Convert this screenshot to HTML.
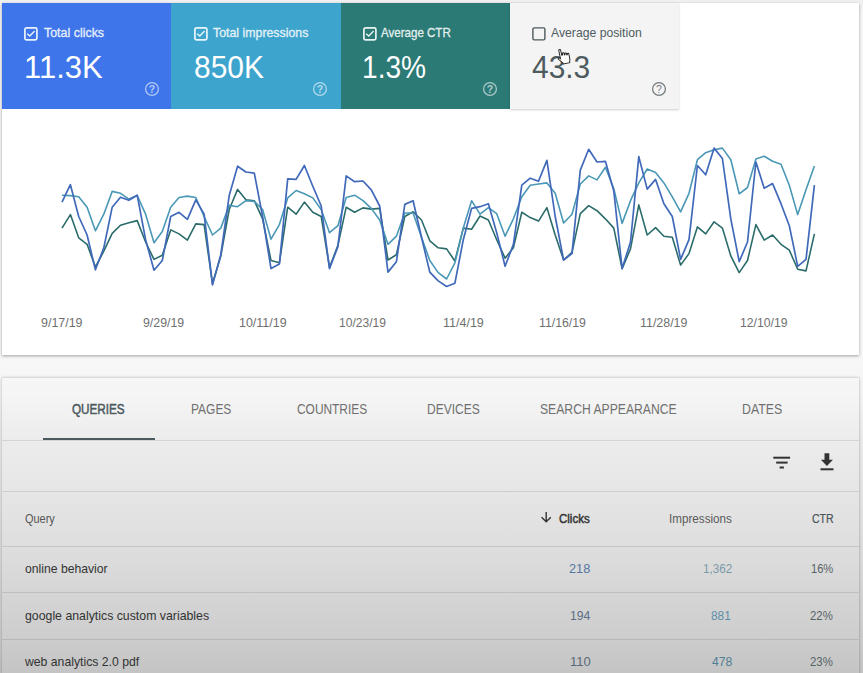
<!DOCTYPE html>
<html><head><meta charset="utf-8"><title>Performance</title>
<style>
html,body{margin:0;padding:0;}
body{width:863px;height:673px;overflow:hidden;background:linear-gradient(#f1f1f1 0px,#f7f7f7 20px,#f7f7f7 360px,#f6f6f6 378px,#f5f5f5 395px,#ececec 440px,#e6e6e6 491px,#dcdcdc 558px,#cdcdcd 638px,#c4c4c4 673px);font-family:"Liberation Sans",sans-serif;position:relative;}
.abs{position:absolute;}
.t{position:absolute;line-height:1;white-space:nowrap;transform-origin:0 0;}
#panel{left:2px;top:3px;width:857px;height:351.5px;background:#fff;box-shadow:0 1px 3px rgba(0,0,0,.35);}
.card{position:absolute;top:3px;height:105.5px;}
#c4{background:#f4f4f4;box-shadow:0 1px 2px rgba(0,0,0,.2);}
#tbl{left:2px;top:378px;width:857px;height:300px;box-shadow:0 0 3px rgba(0,0,0,.3);}
.hline{position:absolute;left:2px;width:857px;height:1px;background:rgba(0,0,0,.10);}
</style></head><body>
<div id="panel" class="abs"></div>
<div class="card" style="left:2px;width:169px;background:#3e75ea"></div>
<div class="card" style="left:171px;width:169.5px;background:#3da4cd"></div>
<div class="card" style="left:340.5px;width:169px;background:#2b7a76"></div>
<div class="card" id="c4" style="left:509.5px;width:169px;"></div>
<svg class="abs" style="left:24.3px;top:26.5px" width="14" height="14" viewBox="0 0 14 14"><rect x="0.9" y="0.9" width="12" height="12" rx="1.6" fill="none" stroke="#eaf3fd" stroke-width="1.7"/><path d="M3.2 6.7 L5.8 9.1 L10.6 4.1" fill="none" stroke="#eaf3fd" stroke-width="1.4"/></svg>
<svg class="abs" style="left:193.7px;top:26.5px" width="14" height="14" viewBox="0 0 14 14"><rect x="0.9" y="0.9" width="12" height="12" rx="1.6" fill="none" stroke="#eaf6fb" stroke-width="1.7"/><path d="M3.2 6.7 L5.8 9.1 L10.6 4.1" fill="none" stroke="#eaf6fb" stroke-width="1.4"/></svg>
<svg class="abs" style="left:362.7px;top:26.5px" width="14" height="14" viewBox="0 0 14 14"><rect x="0.9" y="0.9" width="12" height="12" rx="1.6" fill="none" stroke="#e8f3f2" stroke-width="1.7"/><path d="M3.2 6.7 L5.8 9.1 L10.6 4.1" fill="none" stroke="#e8f3f2" stroke-width="1.4"/></svg>
<svg class="abs" style="left:531.7px;top:26.9px" width="14" height="14" viewBox="0 0 14 14"><rect x="0.9" y="0.9" width="12" height="12" rx="1.4" fill="none" stroke="#4c595c" stroke-width="1.4"/></svg>
<svg class="abs" style="left:143.7px;top:80.7px;opacity:0.6" width="16" height="16" viewBox="0 0 16 16"><circle cx="8" cy="8" r="6.4" fill="none" stroke="#fff" stroke-width="1.25"/><text x="8" y="11.7" font-size="10.5" font-weight="bold" text-anchor="middle" fill="#fff" font-family="Liberation Sans, sans-serif">?</text></svg>
<svg class="abs" style="left:312.4px;top:80.7px;opacity:0.6" width="16" height="16" viewBox="0 0 16 16"><circle cx="8" cy="8" r="6.4" fill="none" stroke="#fff" stroke-width="1.25"/><text x="8" y="11.7" font-size="10.5" font-weight="bold" text-anchor="middle" fill="#fff" font-family="Liberation Sans, sans-serif">?</text></svg>
<svg class="abs" style="left:481.6px;top:80.7px;opacity:0.6" width="16" height="16" viewBox="0 0 16 16"><circle cx="8" cy="8" r="6.4" fill="none" stroke="#fff" stroke-width="1.25"/><text x="8" y="11.7" font-size="10.5" font-weight="bold" text-anchor="middle" fill="#fff" font-family="Liberation Sans, sans-serif">?</text></svg>
<svg class="abs" style="left:650.6px;top:80.7px;opacity:0.8" width="16" height="16" viewBox="0 0 16 16"><circle cx="8" cy="8" r="6.4" fill="none" stroke="#555f62" stroke-width="1.25"/><text x="8" y="11.7" font-size="10.5" font-weight="normal" text-anchor="middle" fill="#555f62" font-family="Liberation Sans, sans-serif">?</text></svg>
<svg class="abs" style="left:0;top:0" width="863" height="360" viewBox="0 0 863 360">
<polyline fill="none" stroke="#2b6c6b" stroke-width="1.6" stroke-linejoin="round" points="62.0,228.1 70.4,214.6 78.7,237.8 87.1,244.3 95.4,267.0 103.8,251.2 112.2,233.4 120.5,225.3 128.9,222.7 137.2,220.6 145.6,242.0 154.0,259.4 162.3,255.2 170.7,229.9 179.0,233.9 187.4,240.1 195.8,223.9 204.1,224.6 212.5,283.7 220.8,255.9 229.2,209.5 237.6,189.4 245.9,199.8 254.3,200.7 262.6,218.8 271.0,260.5 279.4,262.8 287.7,207.2 296.1,214.2 304.4,202.1 312.8,212.3 321.2,216.5 329.5,267.5 337.9,245.4 346.2,207.2 354.6,212.3 363.0,207.9 371.3,209.1 379.7,208.4 388.0,260.0 396.4,254.7 404.8,216.5 413.1,211.8 421.5,220.0 429.8,240.8 438.2,247.8 446.6,248.9 454.9,261.0 463.3,228.1 471.6,229.2 480.0,216.0 488.4,220.0 496.7,239.7 505.1,258.2 513.4,247.8 521.8,212.3 530.2,217.6 538.5,221.1 546.9,207.7 555.2,235.0 563.6,260.0 572.0,252.4 580.3,213.7 588.7,205.6 597.0,210.7 605.4,218.8 613.8,228.1 622.1,268.6 630.5,248.9 638.8,204.9 647.2,235.0 655.6,227.6 663.9,236.2 672.3,237.3 680.6,265.1 689.0,253.6 697.4,226.9 705.7,233.9 714.1,221.8 722.4,228.1 730.8,255.9 739.2,272.6 747.5,260.5 755.9,224.6 764.2,240.1 772.6,235.0 781.0,244.3 789.3,250.1 797.7,269.3 806.0,270.9 814.4,233.9"/>
<polyline fill="none" stroke="#4a98b6" stroke-width="1.6" stroke-linejoin="round" points="62.0,195.2 70.4,195.6 78.7,196.8 87.1,207.2 95.4,230.8 103.8,214.2 112.2,191.4 120.5,193.3 128.9,199.1 137.2,195.6 145.6,214.2 154.0,242.7 162.3,231.5 170.7,207.2 179.0,197.5 187.4,196.1 195.8,197.5 204.1,216.5 212.5,235.0 220.8,228.1 229.2,205.4 237.6,206.7 245.9,200.7 254.3,201.4 262.6,209.5 271.0,239.2 279.4,224.6 287.7,197.9 296.1,190.5 304.4,193.8 312.8,197.9 321.2,209.5 329.5,232.7 337.9,225.7 346.2,197.5 354.6,195.2 363.0,200.7 371.3,208.4 379.7,220.0 388.0,244.3 396.4,236.2 404.8,213.0 413.1,213.0 421.5,237.3 429.8,260.5 438.2,272.6 446.6,279.0 454.9,262.8 463.3,228.1 471.6,200.7 480.0,214.2 488.4,207.7 496.7,213.7 505.1,236.2 513.4,218.8 521.8,196.8 530.2,185.2 538.5,184.0 546.9,182.9 555.2,193.3 563.6,223.0 572.0,214.2 580.3,184.0 588.7,175.9 597.0,179.9 605.4,167.3 613.8,188.7 622.1,223.4 630.5,200.7 638.8,182.9 647.2,169.0 655.6,172.4 663.9,182.9 672.3,196.8 680.6,211.8 689.0,193.3 697.4,159.7 705.7,152.7 714.1,149.7 722.4,148.1 730.8,159.7 739.2,193.8 747.5,187.5 755.9,159.0 764.2,156.2 772.6,161.3 781.0,164.3 789.3,185.2 797.7,214.6 806.0,189.8 814.4,166.0"/>
<polyline fill="none" stroke="#4169ba" stroke-width="1.7" stroke-linejoin="round" points="62.0,202.1 70.4,184.7 78.7,216.5 87.1,235.0 95.4,269.8 103.8,247.8 112.2,207.2 120.5,197.2 128.9,200.3 137.2,195.2 145.6,239.7 154.0,270.2 162.3,260.5 170.7,216.5 179.0,212.3 187.4,219.3 195.8,199.8 204.1,214.2 212.5,284.8 220.8,254.7 229.2,195.6 237.6,166.2 245.9,172.0 254.3,173.1 262.6,216.5 271.0,268.6 279.4,264.0 287.7,178.9 296.1,179.4 304.4,165.5 312.8,186.3 321.2,206.0 329.5,268.6 337.9,246.6 346.2,175.9 354.6,181.7 363.0,181.0 371.3,189.8 379.7,206.0 388.0,272.1 396.4,261.7 404.8,204.4 413.1,200.7 421.5,237.3 429.8,272.1 438.2,280.9 446.6,286.5 454.9,283.2 463.3,239.7 471.6,208.4 480.0,206.7 488.4,203.7 496.7,232.7 505.1,266.3 513.4,244.3 521.8,185.2 530.2,178.2 538.5,181.3 546.9,160.4 555.2,216.5 563.6,260.0 572.0,253.6 580.3,170.1 588.7,149.3 597.0,162.0 605.4,161.3 613.8,191.0 622.1,268.6 630.5,242.0 638.8,156.7 647.2,189.1 655.6,179.4 663.9,203.7 672.3,216.5 680.6,259.4 689.0,239.7 697.4,165.5 705.7,174.8 714.1,148.1 722.4,158.5 730.8,218.8 739.2,261.7 747.5,242.0 755.9,162.0 764.2,188.2 772.6,183.6 781.0,203.7 789.3,225.7 797.7,266.3 806.0,259.4 814.4,185.2"/>
</svg>
<div id="tbl" class="abs"></div>
<div class="abs" style="left:42.5px;top:438px;width:112.5px;height:2px;background:#4a5a5e"></div>
<div class="hline" style="top:440px"></div>
<div class="hline" style="top:491px"></div>
<div class="hline" style="top:546px"></div>
<div class="hline" style="top:592px"></div>
<div class="hline" style="top:639px"></div>
<svg class="abs" style="left:770px;top:450px" width="70" height="24" viewBox="770 450 70 24">
<g fill="#333"><rect x="773.3" y="456.7" width="16.8" height="2"/><rect x="776.2" y="461.6" width="11.4" height="2"/><rect x="779.6" y="466.5" width="4.3" height="2"/>
<path d="M824.5 453.3 H829.3 V459.8 H833 L826.9 466 L820.9 459.8 H824.5 Z"/><rect x="820.5" y="468.3" width="13" height="2"/></g></svg>
<svg class="abs" style="left:539px;top:510px" width="14" height="14" viewBox="0 0 14 14"><path d="M7.2 2 V11.5 M2.6 7.2 L7.2 11.8 L11.8 7.2" fill="none" stroke="#333" stroke-width="1.4"/></svg>
<div class="t" style="left:44.39px;top:25.5px;font-size:13px;-webkit-text-stroke:0.3px #e6effc;color:#e6effc;transform:scale(0.9555,1.0)">Total clicks</div>
<div class="t" style="left:24.31px;top:50.5px;font-size:32px;color:#fff;transform:scale(0.9692,1.0)">11.3K</div>
<div class="t" style="left:213.41px;top:25.5px;font-size:13px;-webkit-text-stroke:0.3px #e4f2f8;color:#e4f2f8;transform:scale(0.9494,1.0)">Total impressions</div>
<div class="t" style="left:193.51px;top:50.5px;font-size:32px;color:#fff;transform:scale(0.9354,1.0)">850K</div>
<div class="t" style="left:381.34px;top:25.5px;font-size:13px;-webkit-text-stroke:0.3px #e2efee;color:#e2efee;transform:scale(0.8885,1.0)">Average CTR</div>
<div class="t" style="left:362.08px;top:50.5px;font-size:32px;color:#fff;transform:scale(0.8793,1.0)">1.3%</div>
<div class="t" style="left:550.92px;top:25.5px;font-size:13px;color:#4f5c5f;transform:scale(0.9393,1.0)">Average position</div>
<div class="t" style="left:532.23px;top:50.5px;font-size:32px;color:#4d5a5e;transform:scale(0.9356,1.0)">43.3</div>
<div class="t" style="left:41.26px;top:315.5px;font-size:13px;color:#707070;transform:scale(0.9577,1.0)">9/17/19</div>
<div class="t" style="left:142.78px;top:315.5px;font-size:13px;color:#707070;transform:scale(0.9482,1.0)">9/29/19</div>
<div class="t" style="left:238.75px;top:315.5px;font-size:13px;color:#707070;transform:scale(0.958,1.0)">10/11/19</div>
<div class="t" style="left:339.01px;top:315.5px;font-size:13px;color:#707070;transform:scale(0.9279,1.0)">10/23/19</div>
<div class="t" style="left:442.98px;top:315.5px;font-size:13px;color:#707070;transform:scale(0.9629,1.0)">11/4/19</div>
<div class="t" style="left:538.99px;top:315.5px;font-size:13px;color:#707070;transform:scale(0.9458,1.0)">11/16/19</div>
<div class="t" style="left:639.89px;top:315.5px;font-size:13px;color:#707070;transform:scale(0.9553,1.0)">11/28/19</div>
<div class="t" style="left:740.27px;top:315.5px;font-size:13px;color:#707070;transform:scale(0.9373,1.0)">12/10/19</div>
<div class="t" style="left:72.48px;top:401.5px;font-size:14px;-webkit-text-stroke:0.5px #4d5b5e;color:#4d5b5e;transform:scale(0.8357,1.0)">QUERIES</div>
<div class="t" style="left:190.63px;top:401.5px;font-size:14px;color:#707070;transform:scale(0.8546,1.0)">PAGES</div>
<div class="t" style="left:297.28px;top:401.5px;font-size:14px;color:#707070;transform:scale(0.8513,1.0)">COUNTRIES</div>
<div class="t" style="left:426.6px;top:401.5px;font-size:14px;color:#707070;transform:scale(0.8595,1.0)">DEVICES</div>
<div class="t" style="left:539.54px;top:401.5px;font-size:14px;color:#707070;transform:scale(0.8696,1.0)">SEARCH APPEARANCE</div>
<div class="t" style="left:741.76px;top:401.5px;font-size:14px;color:#707070;transform:scale(0.8809,1.0)">DATES</div>
<div class="t" style="left:24.59px;top:512.5px;font-size:12px;color:#555;transform:scale(0.9136,1.0)">Query</div>
<div class="t" style="left:559.43px;top:512.5px;font-size:12px;-webkit-text-stroke:0.45px #333;color:#333;transform:scale(0.9586,1.0)">Clicks</div>
<div class="t" style="left:669.14px;top:512.5px;font-size:12px;color:#5a5a5a;transform:scale(0.9715,1.0)">Impressions</div>
<div class="t" style="left:811.86px;top:512.5px;font-size:12px;-webkit-text-stroke:0.2px #4a5558;color:#4a5558;transform:scale(0.8795,1.0)">CTR</div>
<div class="t" style="left:24.58px;top:561.5px;font-size:13px;color:#333;transform:scale(0.9374,1.0)">online behavior</div>
<div class="t" style="left:24.57px;top:608.5px;font-size:13px;color:#333;transform:scale(0.947,1.0)">google analytics custom variables</div>
<div class="t" style="left:25.05px;top:654.5px;font-size:13px;color:#333;transform:scale(0.94,1.0)">web analytics 2.0 pdf</div>
<div class="t" style="left:569.24px;top:561.5px;font-size:13px;color:#5577a0;transform:scale(0.9795,1.0)">218</div>
<div class="t" style="left:569.71px;top:608.5px;font-size:13px;color:#5a6e85;transform:scale(0.9345,1.0)">194</div>
<div class="t" style="left:569.66px;top:654.5px;font-size:13px;color:#5a6a78;transform:scale(0.9996,1.0)">110</div>
<div class="t" style="left:702.59px;top:561.5px;font-size:13px;color:#7a9aa8;transform:scale(0.9005,1.0)">1,362</div>
<div class="t" style="left:710.94px;top:608.5px;font-size:13px;color:#5c8fa8;transform:scale(0.9155,1.0)">881</div>
<div class="t" style="left:711.95px;top:654.5px;font-size:13px;color:#4f7f95;transform:scale(0.9349,1.0)">478</div>
<div class="t" style="left:810.5px;top:561.5px;font-size:13px;color:#556366;transform:scale(0.8558,1.0)">16%</div>
<div class="t" style="left:809.89px;top:608.5px;font-size:13px;color:#556366;transform:scale(0.8738,1.0)">22%</div>
<div class="t" style="left:809.89px;top:654.5px;font-size:13px;color:#556366;transform:scale(0.8738,1.0)">23%</div>
<svg class="abs" style="left:556px;top:45px" width="20" height="22" viewBox="0 0 20 22"><g transform="translate(1.4,3.2) rotate(-12 6 9) scale(0.95)"><path d="M3 1.5 C3 0.3 5 0.3 5 1.5 L5 7 L6 7 L6 5.5 C6 4.6 7.8 4.6 7.8 5.5 L7.8 7.3 L8.6 7.3 L8.6 6.2 C8.6 5.4 10.3 5.4 10.3 6.2 L10.3 7.8 L11 7.8 L11 7 C11 6.2 12.6 6.3 12.6 7.2 L12.6 12 C12.6 14 11.6 15.2 11.6 16.5 L5 16.5 C4.6 14.8 2 12.5 0.8 10.5 C0.2 9.5 1.4 8.6 2.3 9.6 L3 10.4 Z" fill="#fff" stroke="#222" stroke-width="1"/></g></svg>
</body></html>
